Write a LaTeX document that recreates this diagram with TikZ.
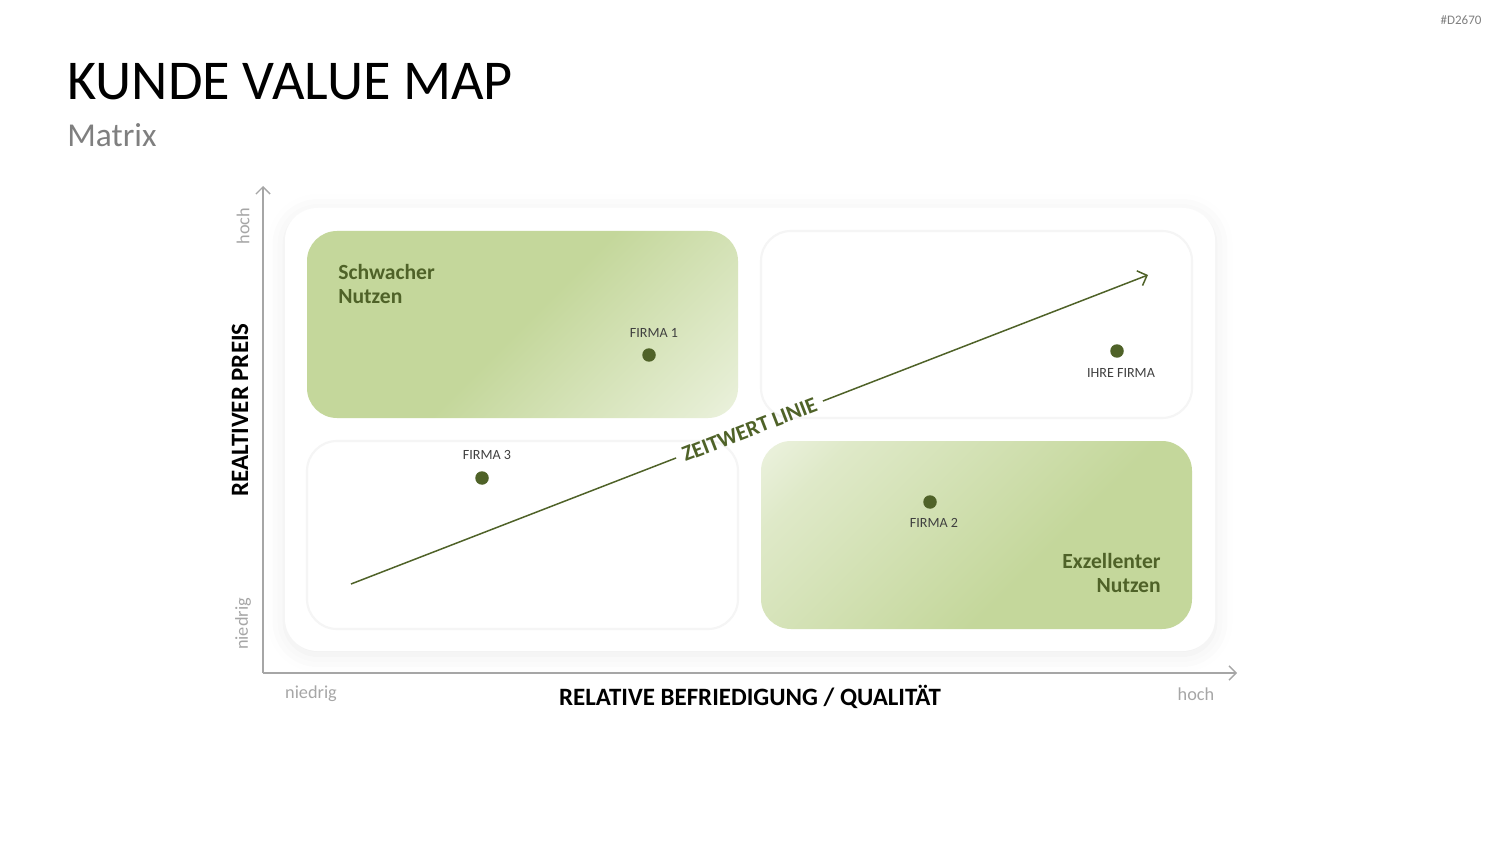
\documentclass[tikz,border=0pt]{standalone}
\usepackage{fontspec}
\setmainfont{Carlito}
\usetikzlibrary{shadows.blur,arrows.meta}
\definecolor{qgreen}{HTML}{C4D79B}
\definecolor{olive}{HTML}{4F6228}
\definecolor{axisgray}{HTML}{A6A6A6}
\definecolor{txtgray}{HTML}{7F7F7F}
\definecolor{lblgray}{HTML}{404040}
% fades for the two green quadrants
\pgfdeclarehorizontalshading{tlfade}{100bp}{color(0bp)=(qgreen); color(50bp)=(qgreen); color(80bp)=(qgreen!45!white); color(100bp)=(white)}
\pgfdeclarehorizontalshading{brfade}{100bp}{color(0bp)=(qgreen); color(40bp)=(qgreen); color(75bp)=(qgreen!55!white); color(100bp)=(white)}
\begin{document}
\begin{tikzpicture}[x=0.02cm, y=0.02cm,
  quad/.style={rounded corners=0.6cm},
  whitequad/.style={quad, fill=white, draw=black!4, line width=1.2pt},
  dot/.style={circle, fill=olive, inner sep=0pt, minimum size=0.27cm},
  firmlabel/.style={font=\fontsize{8}{9.6}\selectfont, text=lblgray},
  heading/.style={font=\fontsize{12.3}{13.6}\selectfont\bfseries, text=olive},
  axislabel/.style={font=\fontsize{10.4}{12}\selectfont, text=axisgray},
  axistitle/.style={font=\fontsize{14.2}{16}\selectfont\bfseries},
  axisline/.style={axisgray, line width=0.8pt, -{Straight Barb[length=4pt, width=8pt]}},
  trend/.style={olive, line width=0.85pt}]
  \useasboundingbox (0,0) rectangle (1500,-844);
  % title
  \node[anchor=base west, inner sep=0pt, font=\fontsize{32}{36}\selectfont] (title) at (67,-100) {KUNDE VALUE MAP};
  \node[anchor=base west, inner sep=0pt, font=\fontsize{19}{22}\selectfont, text=txtgray] (subtitle) at (67,-147) {Matrix};
  \node[font=\fontsize{7.4}{9}\selectfont, text=txtgray] (code) at (1461,-20) {\#D2670};
  % panel and quadrants
  \path[fill=white, rounded corners=0.65cm, blur shadow={shadow xshift=0pt, shadow yshift=-2pt, shadow blur radius=10pt, shadow opacity=8}] (285,-208) rectangle (1215,-651);
  \shade[quad, shading=tlfade, shading angle=-45] (307,-231) rectangle (738,-418);
  \path[whitequad] (761,-231) rectangle (1192,-418);
  \path[whitequad] (307,-441) rectangle (738,-629);
  \shade[quad, shading=brfade, shading angle=135] (761,-441) rectangle (1192,-629);
  \node[heading, anchor=north west, align=left, inner sep=0pt] (weak) at (338,-264) {Schwacher\\Nutzen};
  \node[heading, anchor=north east, align=right, inner sep=0pt] (excellent) at (1161,-553) {Exzellenter\\Nutzen};
  % axes
  \coordinate (origin) at (263,-673);
  \coordinate (ytop) at (263,-186);
  \coordinate (xend) at (1237,-673);
  \draw[axisline] (origin) -- (ytop);
  \draw[axisline] (origin) -- (xend);
  \node[axislabel, rotate=90] (yhigh) at (243,-226) {hoch};
  \node[axislabel, rotate=90] (ylow) at (243,-624) {niedrig};
  \node[axislabel] (xlow) at (311,-694) {niedrig};
  \node[axislabel] (xhigh) at (1196,-694) {hoch};
  \node[axistitle, rotate=90] (ytitle) at (240,-410) {REALTIVER PREIS};
  \node[axistitle] (xtitle) at (750,-697) {RELATIVE BEFRIEDIGUNG / QUALITÄT};
  % value line
  \coordinate (lstart) at (351,-584);
  \coordinate (lend) at (1148,-275);
  \path (lstart) -- (lend) node[pos=0.5, sloped, inner sep=4pt, font=\fontsize{12.5}{14}\selectfont\bfseries, text=olive] (zeit) {ZEITWERT LINIE};
  \draw[trend] (lstart) -- (zeit);
  \draw[trend, -{Straight Barb[length=4.5pt, width=9pt]}] (zeit) -- (lend);
  % companies
  \node[dot] (f1) at (649,-355) {};
  \node[firmlabel] (f1label) at (654,-333) {FIRMA 1};
  \node[dot] (f3) at (482,-478) {};
  \node[firmlabel] (f3label) at (487,-455) {FIRMA 3};
  \node[dot] (ihre) at (1117,-351) {};
  \node[firmlabel] (ihrelabel) at (1121,-373) {IHRE FIRMA};
  \node[dot] (f2) at (930,-502) {};
  \node[firmlabel] (f2label) at (934,-523) {FIRMA 2};
\end{tikzpicture}
\end{document}
